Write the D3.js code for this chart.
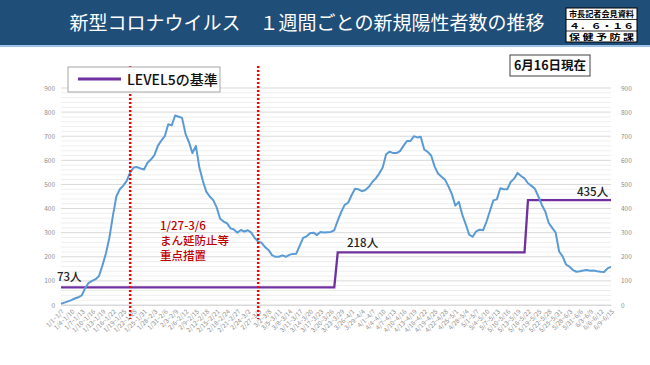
<!DOCTYPE html>
<html><head><meta charset="utf-8">
<script src="https://cdn.jsdelivr.net/npm/d3@7"></script>
<style>
body{margin:0;background:#fff;}
svg{display:block;font-family:"Noto Sans CJK JP","Noto Sans",sans-serif;}
</style>
</head><body><svg id="c" width="650" height="365"></svg>
<script>
// weekly (rolling 7-day) new positive cases, one value per day, window end 1/7 .. 6/15
const weeklyCases = [
  5,10,15,20,27,32,40,70,92,100,107,120,
  165,215,280,370,450,480,495,515,550,570,572,566,
  562,590,603,622,660,682,700,750,745,786,781,776,
  710,675,630,660,570,515,470,450,435,405,358,346,
  339,318,313,300,311,305,310,300,278,263,258,240,
  228,207,200,200,206,200,208,212,213,245,278,285,
  298,300,290,303,301,302,303,310,350,385,415,424,
  455,482,480,472,477,490,510,525,545,570,625,636,
  630,630,638,660,680,680,700,695,698,645,635,620,
  575,545,532,520,492,460,412,428,375,335,292,283,
  305,312,310,345,390,434,438,484,480,480,510,524,
  548,535,525,505,494,482,450,415,388,340,320,300,
  222,202,168,159,145,138,140,143,145,142,143,140,
  138,137,152,158
];
// LEVEL5 threshold per day
const level5 = [
  73,73,73,73,73,73,73,73,73,73,73,73,73,73,73,73,73,73,73,73,
  73,73,73,73,73,73,73,73,73,73,73,73,73,73,73,73,73,73,73,73,
  73,73,73,73,73,73,73,73,73,73,73,73,73,73,73,73,73,73,73,73,
  73,73,73,73,73,73,73,73,73,73,73,73,73,73,73,73,73,73,73,73,
  218,218,218,218,218,218,218,218,218,218,218,218,218,218,218,218,218,218,218,218,
  218,218,218,218,218,218,218,218,218,218,218,218,218,218,218,218,218,218,218,218,
  218,218,218,218,218,218,218,218,218,218,218,218,218,218,218,
  435,435,435,435,435,435,435,435,435,435,435,435,435,435,435,435,435,435,435,435,
  435,435,435,435,435
];
// x-axis tick labels (every 3rd day)
const tickLabels = [
  "1/1~1/7","1/4~1/10","1/7~1/13","1/10~1/16","1/13~1/19","1/16~1/22","1/19~1/25","1/22~1/28","1/25~1/31","1/28~2/3","1/31~2/6",
  "2/3~2/9","2/6~2/12","2/9~2/15","2/12~2/18","2/15~2/21","2/18~2/24","2/21~2/27","2/24~3/2","2/27~3/5",
  "3/2~3/8","3/5~3/11","3/8~3/14","3/11~3/17","3/14~3/20","3/17~3/23","3/20~3/26","3/23~3/29","3/26~4/1","3/29~4/4",
  "4/1~4/7","4/4~4/10","4/7~4/13","4/10~4/16","4/13~4/19","4/16~4/22","4/19~4/25","4/22~4/28","4/25~5/1","4/28~5/4",
  "5/1~5/7","5/4~5/10","5/7~5/13","5/10~5/16","5/13~5/19","5/16~5/22","5/19~5/25","5/22~5/28","5/25~5/31","5/28~6/3","5/31~6/6",
  "6/3~6/9","6/6~6/12","6/9~6/15"
];
const yTicks = [0,100,200,300,400,500,600,700,800,900];
const measureIdx = [20, 57];            // 1/27 and 3/6 boundaries
const levelLabels = ["73人","218人","435人"];
const annotationLines = ["1/27-3/6","まん延防止等","重点措置"];

const svg = d3.select("#c");
const W = 650, H = 365;
const x = d3.scalePoint().domain(d3.range(weeklyCases.length)).range([61, 611]);
const y = d3.scaleLinear().domain([0, 900]).range([305, 88]);

// header
svg.append("rect").attr("x",0).attr("y",0).attr("width",W).attr("height",46).attr("fill","#1f4e79");
svg.append("rect").attr("x",0).attr("y",45).attr("width",W).attr("height",2).attr("fill","#9dc3e6");
svg.append("text").attr("x",307).attr("y",30).attr("text-anchor","middle")
  .attr("fill","#fff").attr("font-size",19).text("新型コロナウイルス　１週間ごとの新規陽性者数の推移");
const bx = 566, by = 8, bw = 71, bh = 34;
svg.append("rect").attr("x",bx).attr("y",by).attr("width",bw).attr("height",bh).attr("fill","#fff").attr("stroke","#000").attr("stroke-width",1);
[by+11.5, by+23].forEach(v=>svg.append("line").attr("x1",bx).attr("x2",bx+bw).attr("y1",v).attr("y2",v).attr("stroke","#000").attr("stroke-width",0.8));
const boxRows = ["市長記者会見資料","４．６・１６","保 健 予 防 課"];
boxRows.forEach((t,i)=>svg.append("text").attr("x",bx+3).attr("y",by+9+i*11.5)
  .attr("font-size",8).attr("font-weight",700).attr("fill","#000")
  .attr("textLength",bw-6).attr("lengthAdjust","spacingAndGlyphs").text(t));

// gridlines
const g = svg.append("g");
d3.range(0, 901, 20).forEach(v=>{
  const major = v % 100 === 0;
  g.append("line").attr("x1",61).attr("x2",611).attr("y1",y(v)).attr("y2",y(v))
   .attr("stroke", major ? "#d9d9d9" : "#eeeeee").attr("stroke-width",1);
});

// y axes
const yl = d3.axisLeft(y).tickValues(yTicks).tickSize(0).tickPadding(0);
svg.append("g").attr("transform","translate(55,0)").call(yl)
  .call(s=>s.select(".domain").remove())
  .selectAll("text").attr("font-size",6.5).attr("fill","#8c8c8c").attr("font-family","Noto Sans CJK JP");
const yr = d3.axisRight(y).tickValues(yTicks).tickSize(0).tickPadding(0);
svg.append("g").attr("transform","translate(621,0)").call(yr)
  .call(s=>s.select(".domain").remove())
  .selectAll("text").attr("font-size",6.5).attr("fill","#8c8c8c").attr("font-family","Noto Sans CJK JP");

// x axis
const tickIdx = d3.range(0, weeklyCases.length, 3);
const xa = d3.axisBottom(x).tickValues(tickIdx).tickSize(0).tickPadding(0)
  .tickFormat(d => tickLabels[d/3]);
svg.append("g").attr("transform","translate(0,305)").call(xa)
  .call(s=>s.select(".domain").attr("stroke","#d9d9d9"))
  .selectAll("text").attr("font-size",6.3).attr("fill","#8c8c8c").attr("font-family","Noto Sans CJK JP")
  .attr("text-anchor","end").attr("dy",0).attr("y",0)
  .attr("transform","translate(3,7) rotate(-45)");

// level5 line
const line = d3.line().x((d,i)=>x(i)).y(d=>y(d));
svg.append("path").datum(level5).attr("d",line).attr("fill","none")
  .attr("stroke","#7030a0").attr("stroke-width",2.3);
// cases line
svg.append("path").datum(weeklyCases).attr("d",line).attr("fill","none")
  .attr("stroke","#5b9bd5").attr("stroke-width",2).attr("stroke-linejoin","round");

// red dotted lines
measureIdx.forEach(i=>svg.append("line").attr("x1",x(i)).attr("x2",x(i)).attr("y1",66).attr("y2",319)
  .attr("stroke","#ff0000").attr("stroke-width",2.5).attr("stroke-dasharray","2,2"));

// level labels
const lpos = [[57,281],[347,247],[577,196]];
levelLabels.forEach((t,k)=>svg.append("text").attr("x",lpos[k][0]).attr("y",lpos[k][1])
  .attr("font-size",11.5).attr("font-weight",500).attr("fill","#222").text(t));

// annotation
annotationLines.forEach((t,i)=>svg.append("text")
  .attr("x",160).attr("y",230+i*15).attr("font-size",11.5).attr("font-weight",500)
  .attr("fill","#c00000").text(t));

// legend
svg.append("rect").attr("x",68).attr("y",67).attr("width",152).attr("height",25)
  .attr("fill","#fff").attr("stroke","#a6a6a6").attr("stroke-width",1);
svg.append("line").attr("x1",78).attr("x2",121).attr("y1",79).attr("y2",79)
  .attr("stroke","#7030a0").attr("stroke-width",3);
svg.append("text").attr("x",127).attr("y",85).attr("font-size",14).attr("font-weight",500).attr("fill","#111").text("LEVEL5の基準");

// date box
svg.append("rect").attr("x",510).attr("y",55).attr("width",80).attr("height",21)
  .attr("fill","#fff").attr("stroke","#404040").attr("stroke-width",1);
svg.append("text").attr("x",550).attr("y",70).attr("text-anchor","middle")
  .attr("font-size",12.5).attr("font-weight",700).attr("fill","#111").text("6月16日現在");
</script>
</body></html>
